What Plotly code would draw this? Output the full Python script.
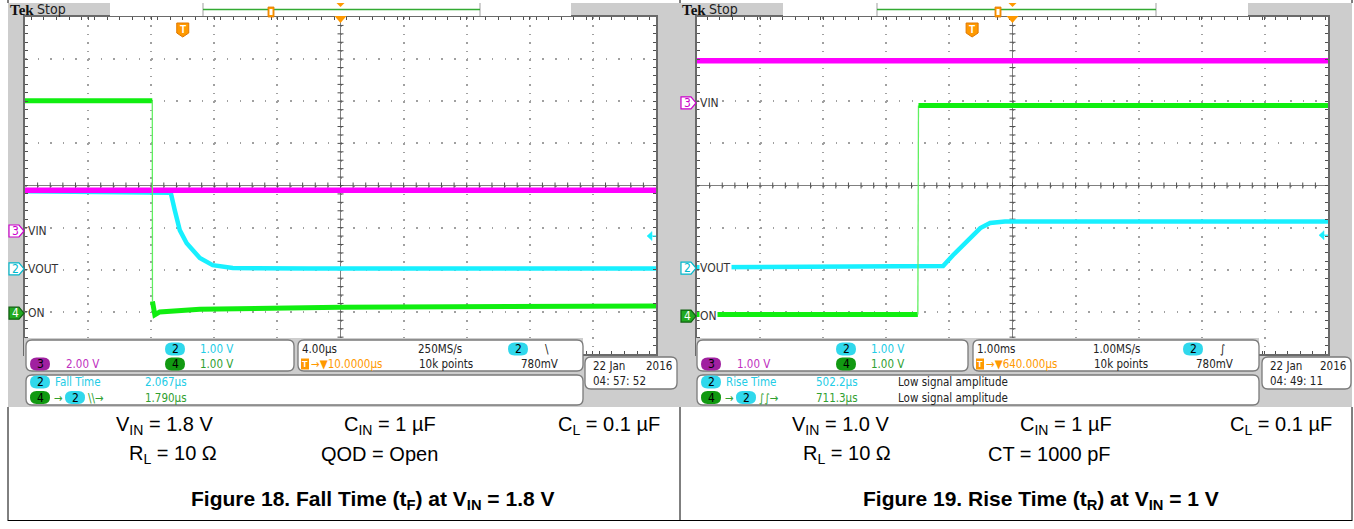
import plotly.graph_objects as go

W, H = 1354, 529

# ---------------- data ----------------
# Figure 18 (fall time): time in microseconds, trace level in graticule divisions
fall_t_range = [-10.0, 30.0]
fall_t_per_div = 4.0
fall_center_t = 10.0
fall_vin_t = [-10.0, 30.0]
fall_vin_v = [-0.11, -0.11]
fall_vout_t = [-10.0, -0.76, -0.51, -0.19, 0.25, 1.08, 1.90, 3.17, 8.0, 30.0]
fall_vout_v = [-0.135, -0.17, -0.58, -1.06, -1.37, -1.72, -1.89, -1.96, -1.97, -1.97]
fall_on_t = [-10.0, -1.93, -1.92, -1.77, -1.46, 1.08, 9.95, 20.0, 30.0]
fall_on_v = [2.01, 2.01, -2.75, -3.07, -3.00, -2.94, -2.89, -2.87, -2.86]
fall_on_edge = 1          # index where the fast (thin) edge starts
fall_ch_ref = [-1.08, -1.98, -3.03]   # ground markers CH3, CH2, CH4

# Figure 19 (rise time): time in milliseconds
rise_t_range = [-4.36, 5.64]
rise_t_per_div = 1.0
rise_center_t = 0.64
rise_vin_t = [-4.36, 5.64]
rise_vin_v = [2.96, 2.96]
rise_vout_t = [-4.36, -0.46, -0.30, -0.08, 0.13, 0.285, 0.52, 5.64]
rise_vout_v = [-1.94, -1.91, -1.65, -1.34, -1.01, -0.89, -0.855, -0.855]
rise_on_t = [-4.36, -0.86, -0.85, 5.64]
rise_on_v = [-3.06, -3.06, 1.90, 1.90]
rise_on_edge = 1
rise_ch_ref = [1.96, -1.96, -3.10]

channel_ids = ["3", "2", "4"]
channel_names = ["VIN", "VOUT", "ON"]
trig_level_div = 0.78     # 780 mV at 1.00 V/div above CH2 reference

fall_info = dict(s3="2.00 V", s2="1.00 V", s4="1.00 V", tb="4.00µs", rate="250MS/s", slope="\\",
                 pos="→▼10.0000µs", pts="10k points", lvl="780mV",
                 m1="Fall Time", v1="2.067µs", n1="", sym="\\\\→", v2="1.790µs", n2="",
                 date="22 Jan", year="2016", time="04: 57: 52")
rise_info = dict(s3="1.00 V", s2="1.00 V", s4="1.00 V", tb="1.00ms", rate="1.00MS/s", slope="∫",
                 pos="→▼640.000µs", pts="10k points", lvl="780mV",
                 m1="Rise Time", v1="502.2µs", n1="Low signal amplitude", sym="∫∫→", v2="711.3µs",
                 n2="Low signal amplitude", date="22 Jan", year="2016", time="04: 49: 11")

fall_params = [["V<sub>IN</sub> = 1.8 V", "C<sub>IN</sub> = 1 µF", "C<sub>L</sub> = 0.1 µF"],
               ["R<sub>L</sub> = 10 Ω", "QOD = Open"]]
rise_params = [["V<sub>IN</sub> = 1.0 V", "C<sub>IN</sub> = 1 µF", "C<sub>L</sub> = 0.1 µF"],
               ["R<sub>L</sub> = 10 Ω", "CT = 1000 pF"]]
fall_title = "<b>Figure 18. Fall Time (t<sub>F</sub>) at V<sub>IN</sub> = 1.8 V</b>"
rise_title = "<b>Figure 19. Rise Time (t<sub>R</sub>) at V<sub>IN</sub> = 1 V</b>"

# ---------------- styling ----------------
SCOPE = "Liberation Sans Narrow, DejaVu Sans Condensed, Arial Narrow, Liberation Sans, sans-serif"
SANS = "Liberation Sans, Arial, sans-serif"
GRAY = "#CDCDCD"
MAG = "#FF00FF"
CYN = "#18F0FF"
GRN = "#10EE10"
ORG = "#FF9900"
TXT_CYN = "#22CCE6"
TXT_MAG = "#C030C0"
TXT_GRN = "#30A030"
FS = 11.5

PT, PB = 17, 354

def PX(x):
    return x / W

def PY(y):
    return 1 - y / H

shapes = []
anns = []

def rect(x0, y0, x1, y1, fill, line=None, lw=0, layer="above"):
    shapes.append(dict(type="rect", xref="paper", yref="paper", x0=PX(x0), x1=PX(x1),
                       y0=PY(y1), y1=PY(y0), fillcolor=fill, layer=layer,
                       line=dict(color=line or fill, width=lw)))

def path(pts, fill, line=None, lw=0, layer="above", close=True):
    d = "M" + " L".join(f"{PX(x):.5f},{PY(y):.5f}" for x, y in pts) + (" Z" if close else "")
    shapes.append(dict(type="path", xref="paper", yref="paper", path=d, fillcolor=fill,
                       layer=layer, line=dict(color=line or fill, width=lw)))

def rrect(x0, y0, x1, y1, r, fill, line=None, lw=0):
    X, Y = PX, PY
    d = (f"M{X(x0+r)},{Y(y0)} L{X(x1-r)},{Y(y0)} Q{X(x1)},{Y(y0)} {X(x1)},{Y(y0+r)} "
         f"L{X(x1)},{Y(y1-r)} Q{X(x1)},{Y(y1)} {X(x1-r)},{Y(y1)} L{X(x0+r)},{Y(y1)} "
         f"Q{X(x0)},{Y(y1)} {X(x0)},{Y(y1-r)} L{X(x0)},{Y(y0+r)} Q{X(x0)},{Y(y0)} {X(x0+r)},{Y(y0)} Z")
    shapes.append(dict(type="path", xref="paper", yref="paper", path=d, fillcolor=fill,
                       layer="above", line=dict(color=line or fill, width=lw)))

def text(x, y, s, color="#222", size=FS, family=SCOPE, anchor="left", bg=None):
    a = dict(x=PX(x), y=PY(y), xref="paper", yref="paper", text=s, showarrow=False,
             xanchor=anchor, yanchor="middle", font=dict(color=color, size=size, family=family),
             borderpad=0)
    if bg:
        a["bgcolor"] = bg
    anns.append(a)

def badge(cx, cy, num, fill):
    rrect(cx - 10, cy - 6.5, cx + 10, cy + 6.5, 6.5, fill)
    text(cx, cy, num, "#000", 12, anchor="center")

# white surroundings (paper itself is the scope grey)
rect(0, 0, W, 3, "white", layer="below")
rect(0, 0, 8, H, "white", layer="below")
rect(1352, 0, W, H, "white", layer="below")
rect(0, 407, W, H, "white", layer="below")
# table rules
for xl in (8, 680, 1352):
    shapes.append(dict(type="line", xref="paper", yref="paper", x0=PX(xl), x1=PX(xl),
                       y0=PY(407), y1=PY(521), line=dict(color="black", width=1), layer="below"))
    shapes.append(dict(type="line", xref="paper", yref="paper", x0=PX(xl), x1=PX(xl),
                       y0=PY(0), y1=PY(3), line=dict(color="black", width=1), layer="below"))
shapes.append(dict(type="line", xref="paper", yref="paper", x0=PX(8), x1=PX(1352),
                   y0=PY(520.5), y1=PY(520.5), line=dict(color="black", width=1), layer="below"))

panels = [
    dict(k="", px=(25, 656), xr=fall_t_range, xdiv=fall_t_per_div, center=fall_center_t,
         vin=(fall_vin_t, fall_vin_v), vout=(fall_vout_t, fall_vout_v), on=(fall_on_t, fall_on_v),
         edge=fall_on_edge, ref=fall_ch_ref, info=fall_info, gx=8,
         b1=(26, 294), b2=(298, 583), b3=(26, 583), bd=(585, 677),
         bar=(110, 571, 203, 480, 271), tek=9,
         params=fall_params, title=fall_title,
         pcols=[(164, 390, 609), (173, 380)], tcx=372),
    dict(k="2", px=(697, 1328), xr=rise_t_range, xdiv=rise_t_per_div, center=rise_center_t,
         vin=(rise_vin_t, rise_vin_v), vout=(rise_vout_t, rise_vout_v), on=(rise_on_t, rise_on_v),
         edge=rise_on_edge, ref=rise_ch_ref, info=rise_info, gx=680,
         b1=(697, 968), b2=(973, 1259), b3=(697, 1259), bd=(1262, 1351),
         bar=(783, 1248, 877, 1156, 998), tek=681,
         params=rise_params, title=rise_title,
         pcols=[(840, 1066, 1281), (847, 1049)], tcx=1041),
]

fig = go.Figure()
layout_axes = {}
VDOT = (PB - PT) / 40.0

for p in panels:
    k = p["k"]
    x0p, x1p = p["px"]
    xr = p["xr"]
    xdiv = p["xdiv"]
    HDOT = (x1p - x0p) / 50.0
    xa = "x" + k
    ya = "y" + k
    common = dict(showticklabels=False, showline=True, linecolor="#6A6A6A", linewidth=2,
                  mirror="allticks", zeroline=False, fixedrange=True, ticks="inside",
                  ticklen=3, tickcolor="#505050", tickwidth=1, showgrid=True,
                  gridcolor="#A0A0A0", gridwidth=1.5)
    layout_axes["xaxis" + k] = dict(common, domain=[PX(x0p), PX(x1p)], range=xr, tick0=xr[0],
                                    dtick=xdiv, anchor=ya,
                                    griddash=f"1.5px,{VDOT - 1.5:.3f}px",
                                    minor=dict(dtick=xdiv / 5, ticks="inside", ticklen=3,
                                               tickcolor="#505050", showgrid=False))
    layout_axes["yaxis" + k] = dict(common, domain=[PY(PB), PY(PT)], range=[-4, 4], tick0=-4,
                                    dtick=1, anchor=xa,
                                    griddash=f"1.5px,{HDOT - 1.5:.3f}px",
                                    minor=dict(dtick=0.2, ticks="inside", ticklen=3,
                                               tickcolor="#505050", showgrid=False))
    # centre cross with ticks
    c = p["center"]
    dx = 3.0 / (x1p - x0p) * (xr[1] - xr[0])
    dy = 3.0 / (PB - PT) * 8
    cross = dict(xref=xa, yref=ya, layer="between", line=dict(color="#808080", width=1))
    shapes.append(dict(cross, type="line", x0=c, x1=c, y0=-4, y1=4))
    shapes.append(dict(cross, type="line", x0=xr[0], x1=xr[1], y0=0, y1=0))
    hp = " ".join(f"M{xr[0] + j * xdiv / 5:.4f},{-dy:.4f} L{xr[0] + j * xdiv / 5:.4f},{dy:.4f}"
                  for j in range(1, 50))
    vp = " ".join(f"M{c - dx:.4f},{-4 + j * 0.2:.4f} L{c + dx:.4f},{-4 + j * 0.2:.4f}"
                  for j in range(1, 40))
    shapes.append(dict(cross, type="path", path=hp, line=dict(color="#505050", width=1)))
    shapes.append(dict(cross, type="path", path=vp, line=dict(color="#505050", width=1)))

    # traces
    vt, vv = p["vout"]
    fig.add_trace(go.Scatter(x=vt, y=vv, xaxis=xa, yaxis=ya, mode="lines",
                             line=dict(color=CYN, width=4.5), hoverinfo="skip", showlegend=False))
    it, iv = p["vin"]
    fig.add_trace(go.Scatter(x=it, y=iv, xaxis=xa, yaxis=ya, mode="lines",
                             line=dict(color=MAG, width=5.5), hoverinfo="skip", showlegend=False))
    ot, ov = p["on"]
    e = p["edge"]
    fig.add_trace(go.Scatter(x=ot[:e + 1], y=ov[:e + 1], xaxis=xa, yaxis=ya, mode="lines",
                             line=dict(color=GRN, width=5), hoverinfo="skip", showlegend=False))
    fig.add_trace(go.Scatter(x=ot[e:e + 2], y=ov[e:e + 2], xaxis=xa, yaxis=ya, mode="lines",
                             line=dict(color="#60F060", width=1.3), hoverinfo="skip",
                             showlegend=False))
    fig.add_trace(go.Scatter(x=ot[e + 1:], y=ov[e + 1:], xaxis=xa, yaxis=ya, mode="lines",
                             line=dict(color=GRN, width=5), hoverinfo="skip", showlegend=False))

    def ypix(v):
        return PT + (4 - v) * (PB - PT) / 8.0

    def xpix(t):
        return x0p + (t - xr[0]) / (xr[1] - xr[0]) * (x1p - x0p)

    # channel markers + names
    gx = p["gx"]
    styles = {"3": ("white", "#CC00CC", "#CC00CC"), "2": ("white", "#00B8CC", "#00B8CC"),
              "4": ("#22AA22", "#106010", "white")}
    for cid, name, ref in zip(channel_ids, channel_names, p["ref"]):
        cy = ypix(ref)
        fill, lc, tc = styles[cid]
        path([(gx + 1, cy - 6), (gx + 11, cy - 6), (gx + 16, cy), (gx + 11, cy + 6), (gx + 1, cy + 6)],
             fill, lc, 1.2)
        text(gx + 7.5, cy, cid, tc, 12, anchor="center")
        text(gx + 19, cy, name, "#333", 12, bg="white")
    # trigger level arrow (right edge)
    ty = ypix(p["ref"][1] + trig_level_div)
    path([(x1p - 9, ty), (x1p - 4, ty - 4.5), (x1p - 4, ty + 4.5)], CYN, CYN, 0.5)
    path([(x1p - 5, ty - 0.6), (x1p, ty - 0.6), (x1p, ty + 0.6), (x1p - 5, ty + 0.6)], CYN)

    # trigger position "T" marker and centre triangle
    tx = xpix(0.0)
    path([(tx - 6, 23), (tx + 6, 23), (tx + 6, 33), (tx, 37), (tx - 6, 33)], ORG, "#E07800", 1)
    text(tx, 29.5, "<b>T</b>", "white", 10, family=SANS, anchor="center")
    cxp = xpix(c)
    path([(cxp - 6, 16), (cxp + 6, 16), (cxp, 23)], ORG)

    # top status bar
    tk = p["tek"]
    text(tk, 10, "<b>Tek</b>", "#111", 15, family="Liberation Serif, serif")
    text(tk + 27, 9.5, "Stop", "#222", 14)
    wb0, wb1, ib0, ib1, tb = p["bar"]
    rect(wb0, 3, wb1, 16, "white")
    for xv in (ib0, ib1):
        shapes.append(dict(type="line", xref="paper", yref="paper", x0=PX(xv), x1=PX(xv),
                           y0=PY(3), y1=PY(16), line=dict(color="#B0B0B0", width=1.2), layer="above"))
    shapes.append(dict(type="line", xref="paper", yref="paper", x0=PX(ib0), x1=PX(ib1),
                       y0=PY(9.5), y1=PY(9.5), line=dict(color="#33AA33", width=1.5), layer="above"))
    rect(tb - 3, 7, tb + 3, 17, ORG, "#E07800", 0.8)
    rect(tb - 1.5, 9, tb + 1.5, 15, "white")
    path([(cxp - 4, 3), (cxp + 4, 3), (cxp, 7)], ORG)

    # readout boxes
    info = p["info"]
    b1, b2, b3, bd = p["b1"], p["b2"], p["b3"], p["bd"]
    rect(x0p - 1, 338, b2[1], 356, GRAY)
    rrect(b1[0], 340, b1[1], 371, 6, "white", "#7A7A7A", 1.3)
    rrect(b2[0], 340, b2[1], 371, 6, "white", "#7A7A7A", 1.3)
    rrect(b3[0], 375, b3[1], 405, 6, "white", "#7A7A7A", 1.3)
    rrect(bd[0], 357, bd[1], 389, 6, "white", "#7A7A7A", 1.3)
    r1, r2 = 349, 364
    a = b1[0]
    badge(a + 149, r1, "2", "#30D8EC")
    text(a + 173, r1, info["s2"], TXT_CYN)
    badge(a + 14, r2, "3", "#A020A0")
    text(a + 39, r2, info["s3"], TXT_MAG)
    badge(a + 149, r2, "4", "#119911")
    text(a + 173, r2, info["s4"], TXT_GRN)
    a = b2[0]
    text(a + 3, r1, info["tb"])
    text(a + 119, r1, info["rate"])
    badge(a + 220, r1, "2", "#30D8EC")
    text(a + 246, r1, info["slope"], "#222")
    rect(a + 3, r2 - 5.5, a + 11, r2 + 5.5, ORG)
    text(a + 7, r2, "<b>T</b>", "white", 9, family=SANS, anchor="center")
    text(a + 12, r2, info["pos"], ORG)
    text(a + 120, r2, info["pts"])
    text(a + 222, r2, info["lvl"])
    a = b3[0]
    q1, q2 = 382, 397.5
    badge(a + 14, q1, "2", "#30D8EC")
    text(a + 28, q1, info["m1"], TXT_CYN)
    text(a + 118, q1, info["v1"], TXT_CYN)
    if info["n1"]:
        text(a + 200, q1, info["n1"])
    badge(a + 14, q2, "4", "#119911")
    text(a + 32, q2, "→", TXT_GRN, anchor="center")
    badge(a + 49, q2, "2", "#30D8EC")
    text(a + 61, q2, info["sym"], TXT_GRN)
    text(a + 118, q2, info["v2"], TXT_GRN)
    if info["n2"]:
        text(a + 200, q2, info["n2"])
    text(bd[0] + 7, 366, info["date"])
    text(bd[1] - 4, 366, info["year"], anchor="right")
    text(bd[0] + 7, 381, info["time"])

    # parameter text below
    for row, ycen, cols in zip(p["params"], (425, 454), p["pcols"]):
        for s, xc in zip(row, cols):
            text(xc, ycen, s, "#000", 20, family=SANS, anchor="center")
    text(p["tcx"], 500, p["title"], "#000", 21, family=SANS, anchor="center")

fig.update_layout(width=W, height=H, margin=dict(l=0, r=0, t=0, b=0), paper_bgcolor=GRAY,
                  plot_bgcolor="white", shapes=shapes, annotations=anns, showlegend=False,
                  **layout_axes)
fig.write_html("out.html", config=dict(displayModeBar=False),
               post_script="document.body.style.margin='0px';document.body.style.overflow='hidden';")
